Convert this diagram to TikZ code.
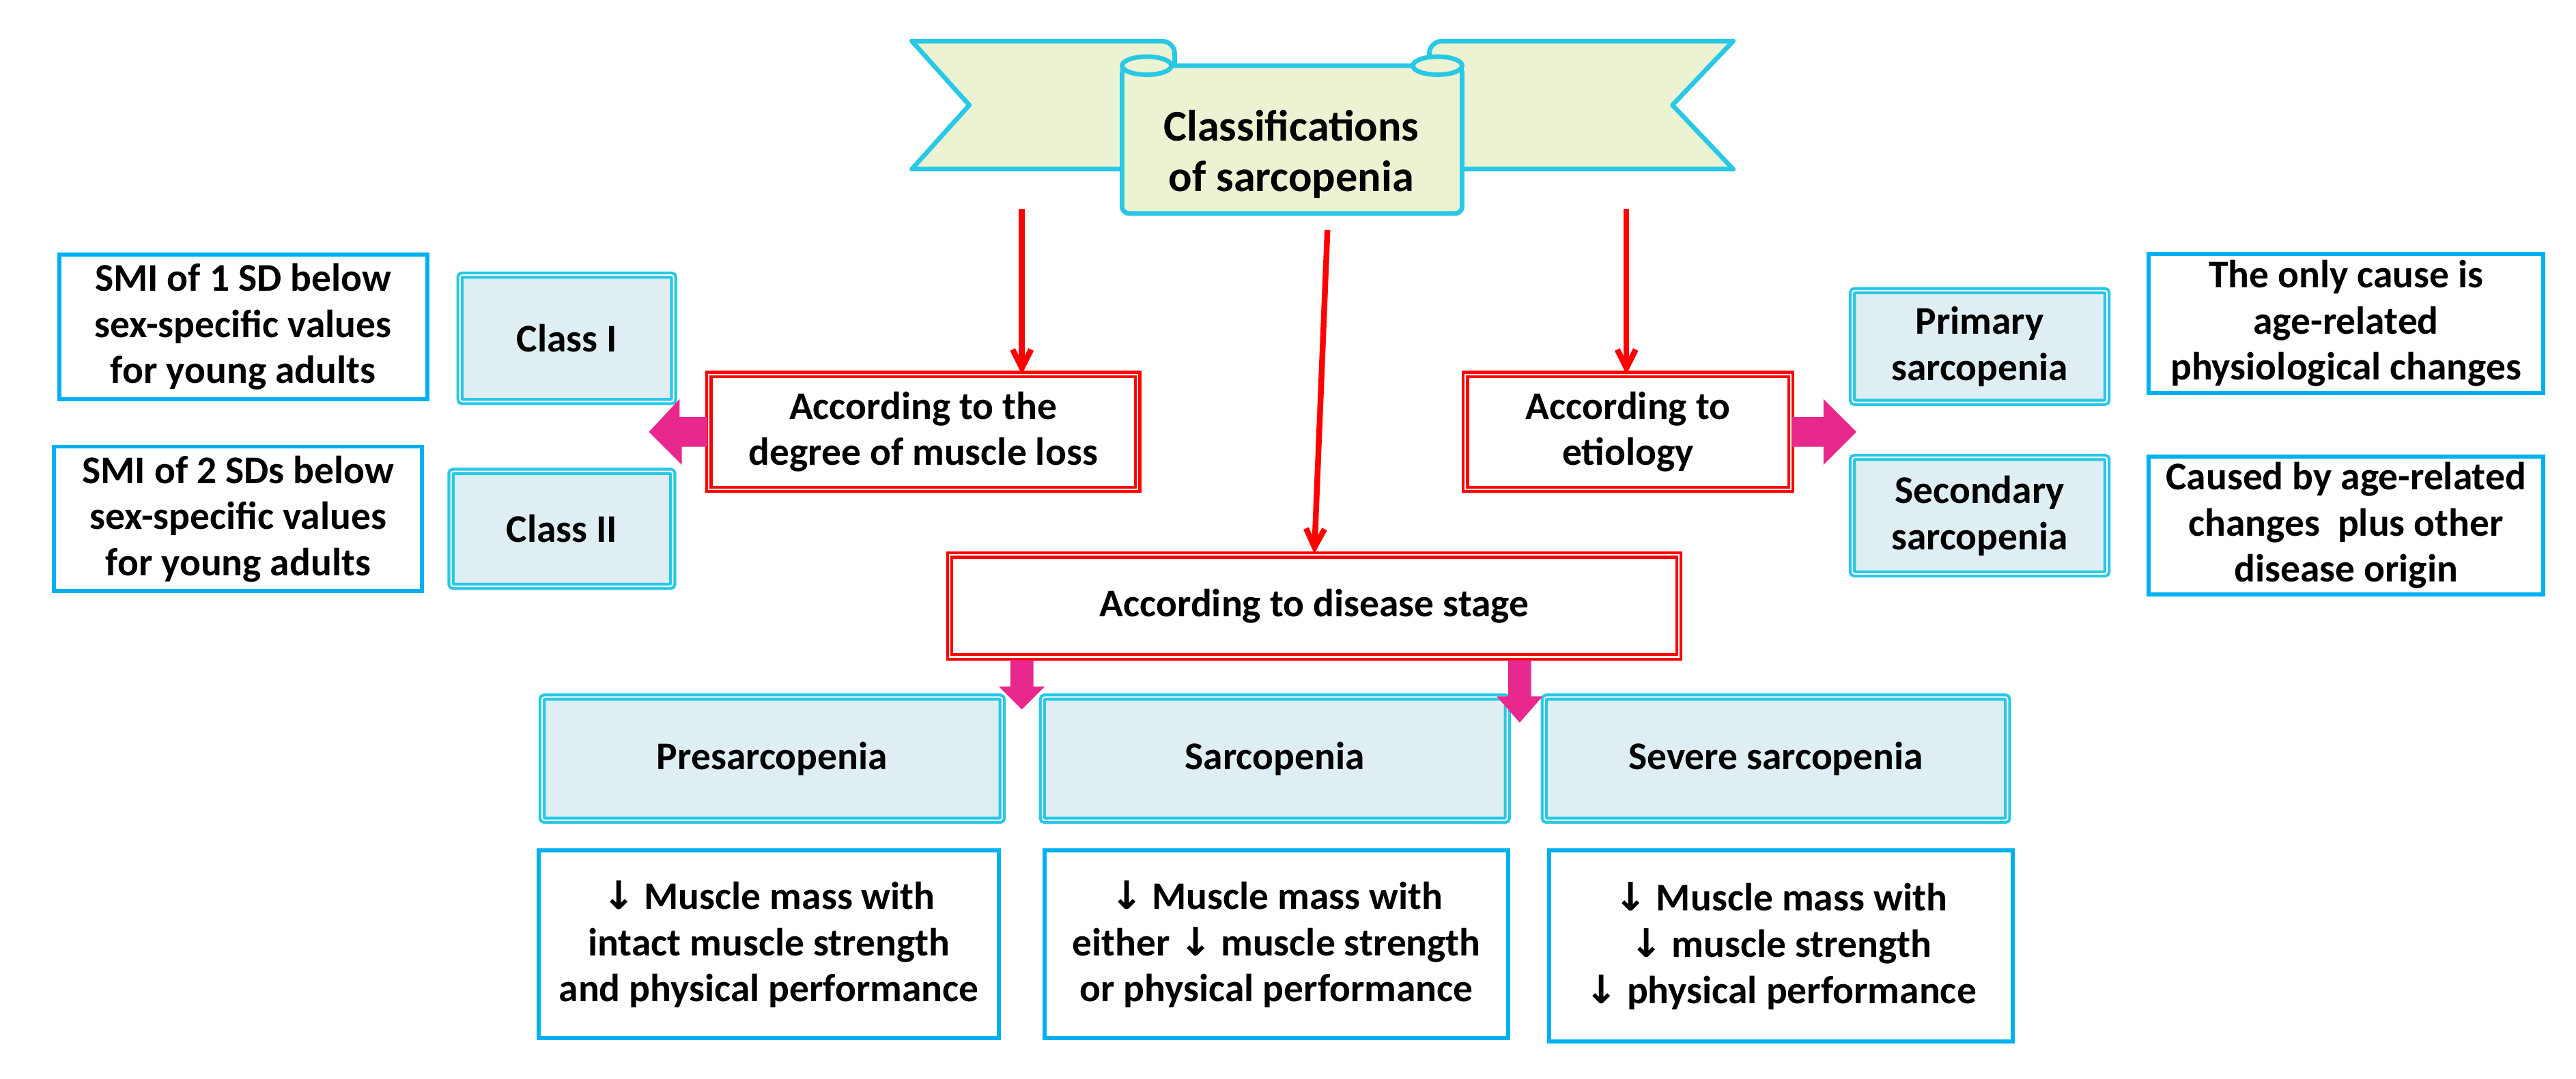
\documentclass[tikz,border=0pt]{standalone}
\usepackage{fontspec}
\setmainfont{Carlito}
\newfontfamily\arrfont{DejaVu Sans}
\newcommand{\dn}{{\arrfont\bfseries ↓}}
\usetikzlibrary{arrows.meta}
\definecolor{cy}{RGB}{40,200,230}
\definecolor{bl}{RGB}{0,176,240}
\definecolor{lb}{RGB}{222,238,243}
\definecolor{bn}{RGB}{235,243,210}
\definecolor{rd}{RGB}{255,0,0}
\definecolor{pk}{RGB}{232,40,140}
\begin{document}
\begin{tikzpicture}[x=0.05cm,y=-0.05cm,
  txt/.style={font=\bfseries\fontsize{34}{40}\selectfont,align=center},
  blue/.style={txt,draw=bl,line width=3.5pt,fill=white,minimum height=0,inner sep=0},
  cls/.style={txt,draw=cy,double=white,line width=2.5pt,double distance=1.2pt,fill=lb,rounded corners=2pt,inner sep=0},
  red/.style={txt,draw=rd,double=white,line width=2.5pt,double distance=1.2pt,fill=white,inner sep=0},
  rarr/.style={draw=rd,line width=5pt,-{Straight Barb[length=16pt,width=16pt]}},
  pink/.style={fill=pk,draw=none}]
\useasboundingbox (0,0) rectangle (1568,657);
% banner
\begin{scope}[draw=cy,line width=4pt,fill=bn,line join=round]
\filldraw (555,25) -- (707,25) arc (-90:0:8 and 7.5) -- (715,103) -- (555,103) -- (590,64) -- cycle;
\filldraw (1055,25) -- (878,25) arc (-90:-180:8 and 7.5) -- (870,103) -- (1055,103) -- (1018,64) -- cycle;
\filldraw[rounded corners=6pt] (683,40) -- (683,130) -- (890,130) -- (890,40) -- cycle;
\filldraw (698,40) ellipse (15 and 5.5);
\filldraw (875,40) ellipse (15 and 5.5);
\end{scope}
\node[txt,font=\bfseries\fontsize{38}{44}\selectfont] (title) at (786,94) {Classifications\\of sarcopenia};
% level 1
\node[red,minimum width=261*0.05cm,minimum height=70*0.05cm] (deg) at (562,263) {According to the\\degree of muscle loss};
\node[red,minimum width=198*0.05cm,minimum height=70*0.05cm] (eti) at (991,263) {According to\\etiology};
\node[red,minimum width=444*0.05cm,minimum height=62*0.05cm] (dis) at (800,369) {According to disease stage};
\coordinate (a1) at (622,127); \coordinate (a2) at (808,140); \coordinate (a3) at (990,127);
\draw[rarr] (a1) -- (622,228);
\draw[rarr] (a2) -- (dis.north);
\draw[rarr] (a3) -- (990,228);
% left
\node[cls,minimum width=130*0.05cm,minimum height=77*0.05cm] (c1) at (345,206) {Class I};
\node[cls,minimum width=135*0.05cm,minimum height=70*0.05cm] (c2) at (342,322) {Class II};
\node[blue,minimum width=224*0.05cm,minimum height=88*0.05cm] (s1) at (148,199) {SMI of 1 SD below\\sex-specific values\\for young adults};
\node[blue,minimum width=224*0.05cm,minimum height=88*0.05cm] (s2) at (145,316) {SMI of 2 SDs below\\sex-specific values\\for young adults};
\fill[pink] (deg.west) ++(0,-9) -- ++(-17,0) -- ++(0,-11) -- (395,263) -- (415,283) -- (415,272) -- (deg.west|-0,272) -- cycle;
% right
\node[cls,minimum width=155*0.05cm,minimum height=68*0.05cm] (p1) at (1205,211) {Primary\\sarcopenia};
\node[cls,minimum width=155*0.05cm,minimum height=71*0.05cm] (p2) at (1205,314) {Secondary\\sarcopenia};
\node[blue,minimum width=240*0.05cm,minimum height=85*0.05cm] (t1) at (1428,197) {The only cause is\\age-related\\physiological changes};
\node[blue,minimum width=240*0.05cm,minimum height=84*0.05cm] (t2) at (1428,320) {Caused by age-related\\changes~ plus other\\disease origin};
\fill[pink] (eti.east) ++(0,-9) -- (1110,254) -- (1110,243) -- (1130,263) -- (1110,283) -- (1110,272) -- (eti.east|-0,272) -- cycle;
% bottom
\node[cls,minimum width=280*0.05cm,minimum height=75*0.05cm] (b1) at (470,462) {Presarcopenia};
\node[cls,minimum width=283*0.05cm,minimum height=75*0.05cm] (b2) at (776,462) {Sarcopenia};
\node[cls,minimum width=282*0.05cm,minimum height=75*0.05cm] (b3) at (1081,462) {Severe sarcopenia};
\fill[pink] (615,402) -- (629,402) -- (629,418) -- (636,418) -- (622,432) -- (608,418) -- (615,418) -- cycle;
\fill[pink] (918,402) -- (932,402) -- (932,424) -- (939,424) -- (925,440) -- (911,424) -- (918,424) -- cycle;
\node[blue,minimum width=280*0.05cm,minimum height=114*0.05cm] (d1) at (468,575) {\dn{} Muscle mass with\\intact muscle strength\\and physical performance};
\node[blue,minimum width=282*0.05cm,minimum height=114*0.05cm] (d2) at (777,575) {\dn{} Muscle mass with\\either \dn{} muscle strength\\or physical performance};
\node[blue,minimum width=282*0.05cm,minimum height=116*0.05cm] (d3) at (1084,576) {\dn{} Muscle mass with\\\dn{} muscle strength\\\dn{} physical performance};
\end{tikzpicture}
\end{document}
